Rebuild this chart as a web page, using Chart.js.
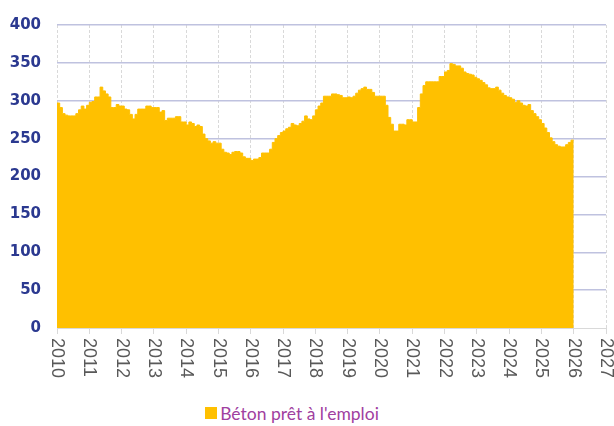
<!DOCTYPE html>
<html>
<head>
<meta charset="utf-8">
<script src="https://cdn.jsdelivr.net/npm/chart.js@4.4.1/dist/chart.umd.min.js"></script>
<style>
    html, body { margin: 0; padding: 0; background: #fff; }
    #chartBox { width: 614px; height: 400px; }
    #legend {
        width: 614px; height: 26px; box-sizing: border-box; padding-right: 30px;
        display: flex; justify-content: center; align-items: center;
        font-family: Lato, sans-serif; font-size: 17.5px; color: #a040a0;
    }
    #legend .swatch { width: 12px; height: 12px; margin-right: 3px; display: inline-block; }
</style>
</head>
<body>
<div id="chartBox"><canvas id="betonChart" width="614" height="400"></canvas></div>
<div id="legend"></div>
<script>
// Monthly index, Jan 2010 .. Dec 2025
const startYear = 2010;
const seriesName = "Béton prêt à l'emploi";
const beton = [
    297, 291, 283, 281, 280, 280, 280, 283, 288, 293, 289, 294, // 2010
    298, 299, 305, 305, 318, 313, 309, 305, 291, 291, 295, 293, // 2011
    293, 289, 288, 282, 276, 282, 289, 289, 289, 293, 293, 291, // 2012
    291, 291, 285, 287, 274, 277, 277, 277, 279, 279, 272, 272, // 2013
    268, 272, 270, 266, 268, 266, 256, 250, 247, 244, 246, 244, // 2014
    244, 236, 232, 231, 229, 232, 233, 233, 231, 226, 224, 224, // 2015
    221, 223, 223, 225, 231, 231, 231, 236, 245, 250, 254, 258, // 2016
    260, 263, 265, 270, 268, 267, 270, 273, 280, 276, 275, 280, // 2017
    288, 293, 297, 306, 306, 306, 309, 309, 308, 307, 304, 304, // 2018
    305, 304, 306, 310, 314, 316, 318, 315, 315, 311, 306, 306, // 2019
    306, 306, 294, 278, 269, 260, 260, 269, 269, 268, 275, 275, // 2020
    272, 272, 291, 309, 320, 325, 325, 325, 325, 325, 332, 332, // 2021
    338, 340, 349, 348, 346, 346, 343, 338, 336, 335, 334, 331, // 2022
    329, 327, 324, 321, 317, 316, 316, 318, 314, 310, 307, 305, // 2023
    304, 302, 298, 300, 297, 294, 293, 295, 287, 283, 279, 275, // 2024
    270, 264, 258, 251, 246, 242, 240, 239, 239, 242, 245, 248  // 2025
];
const yearTicks = ['2010', '2011', '2012', '2013', '2014', '2015', '2016', '2017', '2018',
    '2019', '2020', '2021', '2022', '2023', '2024', '2025', '2026', '2027'];
const yTicks = [0, 50, 100, 150, 200, 250, 300, 350, 400];

const gold = '#FFC000';

// one point per month start, plus a closing point at the end of the last month
const points = beton.map((v, i) => ({ x: startYear + i / 12, y: v }));
points.push({ x: startYear + beton.length / 12, y: beton[beton.length - 1] });

// year labels read top-to-bottom (rotated clockwise), Chart.js can't do that itself
const yearLabels = {
    id: 'yearLabels',
    afterDraw(chart) {
        const { ctx, scales: { x } } = chart;
        ctx.save();
        ctx.font = '18px "Liberation Sans", Arial, sans-serif';
        ctx.fillStyle = '#595959';
        ctx.textAlign = 'left';
        ctx.textBaseline = 'middle';
        yearTicks.forEach(label => {
            const px = x.getPixelForValue(Number(label));
            ctx.save();
            ctx.translate(px, x.top + 10);
            ctx.rotate(Math.PI / 2);
            ctx.fillText(label, 0, 0);
            ctx.restore();
        });
        ctx.restore();
    }
};

const chart = new Chart(document.getElementById('betonChart').getContext('2d'), {
    type: 'line',
    data: {
        datasets: [{
            label: seriesName,
            data: points,
            stepped: 'before',
            fill: 'origin',
            backgroundColor: gold,
            borderColor: gold,
            borderWidth: 1,
            pointRadius: 0
        }]
    },
    options: {
        responsive: false,
        animation: false,
        layout: { padding: { top: 17, right: 8, left: 0, bottom: 0 } },
        plugins: {
            legend: { display: false },
            tooltip: { enabled: false }
        },
        scales: {
            x: {
                type: 'linear',
                min: Number(yearTicks[0]),
                max: Number(yearTicks[yearTicks.length - 1]),
                afterBuildTicks: scale => {
                    scale.ticks = yearTicks.map(t => ({ value: Number(t) }));
                },
                ticks: { display: false },
                grid: {
                    color: '#d9d9d9',
                    lineWidth: 1,
                    drawTicks: true,
                    tickLength: 6,
                    tickColor: '#d9d9d9'
                },
                border: { display: true, color: '#d9d9d9', width: 1, dash: [3, 2] },
                afterFit: scale => { scale.height = 72; }
            },
            y: {
                min: 0,
                max: 400,
                afterBuildTicks: scale => {
                    scale.ticks = yTicks.map(v => ({ value: v }));
                },
                ticks: {
                    color: '#2b3990',
                    padding: 16,
                    font: { family: 'DejaVu Sans', size: 15, weight: 'bold' }
                },
                grid: {
                    drawTicks: false,
                    lineWidth: 1.5,
                    color: ctx => ctx.tick && ctx.tick.value === 0 ? 'rgba(0,0,0,0)' : '#bfc2df'
                },
                border: { display: false },
                afterFit: scale => { scale.width = 57; }
            }
        }
    },
    plugins: [yearLabels]
});

// html legend built from the dataset
const legend = document.getElementById('legend');
chart.data.datasets.forEach(ds => {
    const sw = document.createElement('span');
    sw.className = 'swatch';
    sw.style.background = ds.backgroundColor;
    const txt = document.createElement('span');
    txt.textContent = ds.label;
    legend.appendChild(sw);
    legend.appendChild(txt);
});
</script>
</body>
</html>
